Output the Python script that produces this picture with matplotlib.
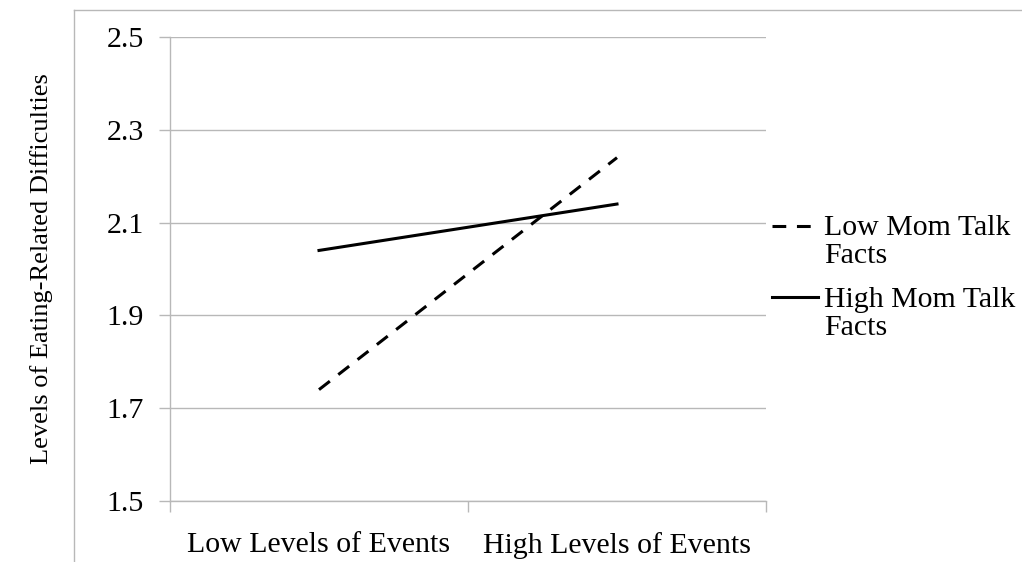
import matplotlib.pyplot as plt
from matplotlib.lines import Line2D
from matplotlib.legend_handler import HandlerLine2D

categories = ["Low Levels of Events", "High Levels of Events"]
low_mom_talk = [1.74, 2.24]
high_mom_talk = [2.04, 2.14]
series_names = ["Low Mom Talk\nFacts", "High Mom Talk\nFacts"]
y_ticks = [1.5, 1.7, 1.9, 2.1, 2.3, 2.5]

plt.rcParams['font.family'] = ['Liberation Serif', 'DejaVu Serif']


class FirstLineHandler(HandlerLine2D):
    # put the legend line level with the first text line, like Excel does
    def create_artists(self, legend, orig_handle, xdescent, ydescent,
                       width, height, fontsize, trans):
        arts = super().create_artists(legend, orig_handle, xdescent, ydescent,
                                      width, height, fontsize, trans)
        for a in arts:
            a.set_ydata([v + 11.5 for v in a.get_ydata()])
        return arts


W, H = 1022, 562
fig = plt.figure(figsize=(W / 100, H / 100), dpi=100)
ax = fig.add_axes([170 / W, 1 - 501 / H, 596 / W, 464 / H])

grey = '#b8b8b8'
x = [0, 1]
ax.plot(x, low_mom_talk, color='black', lw=2.2, ls=(0, (4.5, 3.5)), label=series_names[0])
ax.plot(x, high_mom_talk, color='black', lw=2.2, label=series_names[1])

ax.set_xlim(-0.5, 1.5)
ax.set_ylim(1.5, 2.5)
ax.set_yticks(y_ticks)
ax.set_yticklabels([f"{v:.1f}" for v in y_ticks], fontsize=21.5)
ax.yaxis.grid(True, color=grey, lw=1)
ax.set_axisbelow(True)

# category labels centred, tick marks at boundaries
ax.set_xticks([-0.5, 0.5, 1.5])
ax.set_xticklabels([])
ax.set_xticks(x, minor=True)
ax.set_xticklabels(categories, minor=True, fontsize=21.5)
ax.tick_params(axis='x', which='minor', length=0, pad=22)
ax.tick_params(axis='x', which='major', length=8, color=grey, width=1)
ax.tick_params(axis='y', length=8, color=grey, width=1, pad=11)

for s in ['top', 'right']:
    ax.spines[s].set_visible(False)
for s in ['left', 'bottom']:
    ax.spines[s].set_color(grey)
    ax.spines[s].set_linewidth(1)

ax.set_ylabel("Levels of Eating-Related Difficulties", fontsize=19, labelpad=38)

leg = ax.legend(loc='upper left', bbox_to_anchor=(1.0 - 12 / 596, 0.654), frameon=False,
                fontsize=21.5, handlelength=1.55, handletextpad=0.2,
                labelspacing=0.58, borderaxespad=0.2,
                handler_map={Line2D: FirstLineHandler()})
for t in leg.get_texts():
    t.set_linespacing(1.1)

# outer chart frame
fig.add_artist(Line2D([74 / W, 74 / W], [0, 1 - 10 / H], color=grey, lw=1))
fig.add_artist(Line2D([74 / W, 1], [1 - 10 / H, 1 - 10 / H], color=grey, lw=1))

fig.savefig("out.png", dpi=100)
